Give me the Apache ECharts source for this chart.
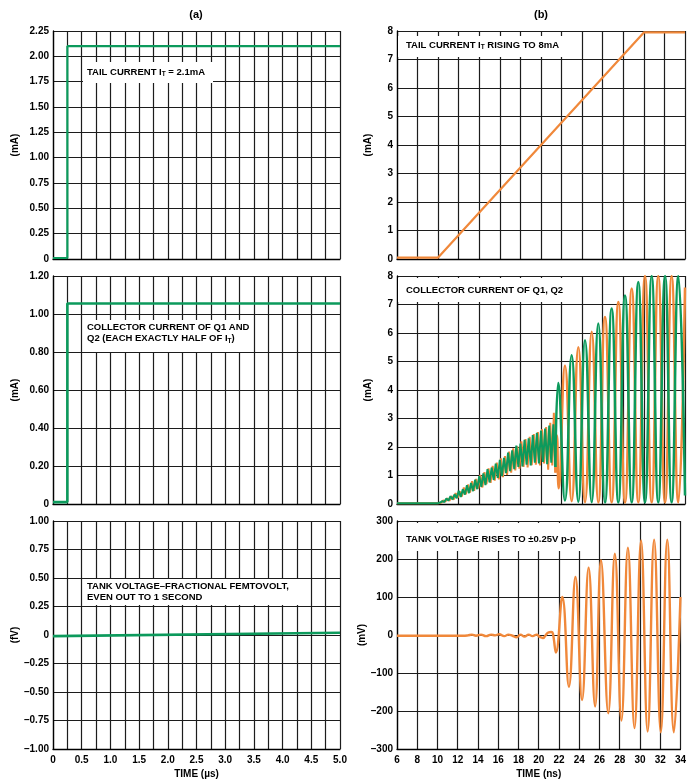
<!DOCTYPE html>
<html><head><meta charset="utf-8">
<script src="https://cdn.jsdelivr.net/npm/echarts@6/dist/echarts.min.js"></script>
<style>html,body{margin:0;padding:0;background:#fff}#c{width:689px;height:782px}</style>
</head><body><div id="c"></div>
<script>
// ---------- panel (a) : time in microseconds ----------
const tailCurrentA = [[0,0.01],[0.25,0.01],[0.25,2.1],[5,2.1]];
const collectorA   = [[0,0.01],[0.25,0.01],[0.25,1.055],[5,1.055]];
const tankA        = [[0,-0.01],[5,0.02]];

// ---------- panel (b) : time in nanoseconds ----------
const tailCurrentB = [[6,0.05],[10,0.05],[30,7.95],[34,7.95]];

const greenNoiseB = [[6,0.03],[10,0.03],[10.2,0.05],[10.4,0.10],[10.6,0.07],[10.8,0.19],[11.0,0.12],[11.2,0.27],[11.4,0.16],[11.6,0.34],[11.8,0.20],
 [12.0,0.46],[12.2,0.25],[12.4,0.52],[12.6,0.33],[12.8,0.66],[13.0,0.38],[13.2,0.74],[13.4,0.45],[13.6,0.85],[13.8,0.52],
 [14.0,0.98],[14.2,0.60],[14.4,1.07],[14.6,0.66],[14.8,1.22],[15.0,0.76],[15.2,1.28],[15.4,0.85],[15.6,1.42],[15.8,0.92],
 [16.0,1.55],[16.2,0.98],[16.4,1.62],[16.6,1.08],[16.8,1.80],[17.0,1.15],[17.2,1.88],[17.4,1.22],[17.6,2.05],[17.8,1.30],
 [18.0,2.12],[18.2,1.32],[18.4,2.25],[18.6,1.38],[18.8,2.30],[19.0,1.35],[19.2,2.42],[19.4,1.45],[19.6,2.50],[19.8,1.42],
 [20.0,2.58],[20.2,1.48],[20.4,2.65],[20.6,1.40],[20.8,2.75],[21.0,1.45],[21.2,2.80],[21.4,1.30]];
const greenOscB = [[21.4,1.30],[21.68,4.25],[22.33,0.12],[22.98,5.22],[23.63,0.08],[24.28,5.75],[24.93,0.06],[25.57,6.33],
 [26.22,0.05],[26.87,6.86],[27.52,0.05],[28.17,7.32],[28.82,0.05],[29.46,7.79],[30.11,0.05],[30.76,8.0],[31.40,0.05],
 [32.06,8.0],[32.70,0.05],[33.35,8.0],[34.0,0.3]];

const orangeNoiseB = [[6,0.03],[10,0.03],[10.1,0.06],[10.3,0.04],[10.5,0.13],[10.7,0.08],[10.9,0.20],[11.1,0.11],[11.3,0.28],[11.5,0.15],[11.7,0.38],[11.9,0.22],
 [12.1,0.44],[12.3,0.26],[12.5,0.58],[12.7,0.34],[12.9,0.68],[13.1,0.40],[13.3,0.80],[13.5,0.46],[13.7,0.88],[13.9,0.54],
 [14.1,1.02],[14.3,0.58],[14.5,1.12],[14.7,0.70],[14.9,1.25],[15.1,0.74],[15.3,1.34],[15.5,0.82],[15.7,1.45],[15.9,0.86],
 [16.1,1.60],[16.3,0.94],[16.5,1.68],[16.7,1.02],[16.9,1.84],[17.1,1.10],[17.3,1.95],[17.5,1.18],[17.7,2.02],[17.9,1.24],
 [18.1,2.20],[18.3,1.30],[18.5,2.28],[18.7,1.28],[18.9,2.36],[19.1,1.36],[19.3,2.45],[19.5,1.38],[19.7,2.52],[19.9,1.35],
 [20.1,2.62],[20.3,1.42],[20.5,2.70],[20.7,1.20],[20.9,2.85],[21.1,1.35],[21.25,3.20],[21.4,1.10]];
const orangeOscB = [[21.4,1.10],[21.55,2.4],[21.72,0.55],[22.33,4.85],[22.98,0.10],[23.63,5.50],[24.28,0.06],[24.93,6.04],
 [25.57,0.05],[26.22,6.56],[26.87,0.05],[27.52,7.09],[28.17,0.05],[28.82,7.56],[29.46,0.05],[30.11,8.0],[30.76,0.05],
 [31.40,8.0],[32.06,0.05],[32.70,8.0],[33.35,0.05],[34.0,7.6]];

const tankB = [[6,-2],[12.5,-2],[13,-1],[13.4,1],[13.8,-2],[14.3,1],[14.8,-3],[15.3,1],[15.7,-1],[16.1,2],[16.6,-3],[17.0,1],
 [17.4,-2],[17.8,-6],[18.2,1],[18.6,-4],[19.0,1],[19.4,-3],[19.8,1],[20.1,-5],[20.4,-8],[20.9,6],[21.25,8],[21.4,4],
 [21.7,-46],[22.33,100],[22.98,-136],[23.63,153],[24.28,-171],[24.93,177],[25.57,-188],[26.15,197],[26.87,-206],
 [27.52,214],[28.17,-225],[28.81,230],[29.46,-245],[30.11,249],[30.76,-254],[31.40,251],[32.06,-256],[32.70,251],
 [33.35,-256],[34,100]];

// ---------- styling ----------
const GREEN = '#0c9a5c', ORANGE = '#f0883a';
const FONT = '"Liberation Sans", Arial, Helvetica, sans-serif';
const lbl = {color:'#000', fontWeight:'bold', fontSize:10, fontFamily:FONT};
const fixed = d => v => v === 0 ? '0' : (v < 0 ? '\u2013' : '') + Math.abs(v).toFixed(d);
const intLbl = v => v === 0 ? '0' : (v < 0 ? '\u2013' : '') + Math.abs(v);
const halfLbl = v => { const k = v * 2; return Math.abs(k - Math.round(k)) < 1e-6 ? (v === 0 ? '0' : v.toFixed(1)) : ''; };
const split = {show:true, lineStyle:{color:'#1c1c1c', width:1.2}};
const aline = {show:true, onZero:false, lineStyle:{color:'#000', width:1.3}};

const grids = [
  {left:53, top:31, width:287, height:228},
  {left:53, top:276, width:287, height:228},
  {left:53, top:521, width:287, height:228},
  {left:397, top:31, width:288, height:228},
  {left:397, top:276, width:288, height:228},
  {left:397, top:521, width:288, height:228}
];

function xA(i, left){
  const bottom = (i === 2 || i === 5);
  const o = {type:'value', gridIndex:i, position:'bottom', axisLine:aline, axisTick:{show:false}, splitLine:split,
    axisLabel:{show:bottom, margin:6, ...lbl}};
  if (left){ Object.assign(o, {min:0, max:5, interval:0.25}); o.axisLabel.formatter = halfLbl; }
  else { Object.assign(o, {min:6, max:34, interval:2}); o.axisLabel.formatter = intLbl; }
  if (bottom){ o.name = left ? 'TIME (\u00b5s)' : 'TIME (ns)'; o.nameLocation='middle'; o.nameGap=20;
    o.nameTextStyle = {...lbl}; }
  return o;
}
function yA(i, min, max, interval, fmt, name, gap){
  return {type:'value', gridIndex:i, min, max, interval, axisLine:aline, axisTick:{show:false}, splitLine:split,
    axisLabel:{margin:4, formatter:fmt, ...lbl}, name, nameLocation:'middle', nameGap:gap, nameTextStyle:{...lbl}};
}

const xAxis = [xA(0,true), xA(1,true), xA(2,true), xA(3,false), xA(4,false), xA(5,false)];
const yAxis = [
  yA(0, 0, 2.25, 0.25, fixed(2), '(mA)', 33),
  yA(1, 0, 1.2, 0.2, fixed(2), '(mA)', 33),
  yA(2, -1, 1, 0.25, fixed(2), '(fV)', 33),
  yA(3, 0, 8, 1, intLbl, '(mA)', 24),
  yA(4, 0, 8, 1, intLbl, '(mA)', 24),
  yA(5, -300, 300, 100, intLbl, '(mV)', 24)
];

function line(data, i, color, width, smooth, z){
  return {type:'line', data, xAxisIndex:i, yAxisIndex:i, showSymbol:false, symbol:'none', smooth:smooth||false,
    lineStyle:{color, width}, z:z||2, animation:false, silent:true};
}

const series = [
  line(tailCurrentA, 0, GREEN, 2.2),
  line(collectorA, 1, GREEN, 2.6),
  line(tankA, 2, GREEN, 2.6),
  line(tailCurrentB, 3, ORANGE, 2.2),
  line(orangeNoiseB, 4, ORANGE, 2, false, 2),
  line(orangeOscB, 4, ORANGE, 2.5, 0.5, 2),
  line(greenNoiseB, 4, GREEN, 2, false, 3),
  line(greenOscB, 4, GREEN, 2.5, 0.5, 3),
  line(tankB, 5, ORANGE, 2.4, 0.45)
];

const tfont = 'bold 9.5px ' + FONT;
const rich = {s:{fontSize:6.5, fontWeight:'bold', fontFamily:FONT, padding:[5,0,0,0]}};
function note(x, y, w, h, tx, ty, text){
  return [
    {type:'rect', z:100, zlevel:0, silent:true, shape:{x, y, width:w, height:h}, style:{fill:'#fff'}},
    {type:'text', z:101, zlevel:0, silent:true, style:{x:tx, y:ty, text, font:tfont, fill:'#000', rich, lineHeight:11, verticalAlign:'middle'}}
  ];
}

const graphic = [
  {type:'text', z:100, style:{x:196, y:15, text:'(a)', font:'bold 11px '+FONT, fill:'#000', align:'center', verticalAlign:'middle'}},
  {type:'text', z:100, style:{x:541, y:15, text:'(b)', font:'bold 11px '+FONT, fill:'#000', align:'center', verticalAlign:'middle'}},
  ...note(83, 62, 130, 21, 87, 72, 'TAIL CURRENT I{s|T} = 2.1mA'),
  ...note(83, 320, 168, 32, 87, 333, 'COLLECTOR CURRENT OF Q1 AND\nQ2 (EACH EXACTLY HALF OF I{s|T})'),
  ...note(83, 579, 216, 26, 87, 592, 'TANK VOLTAGE\u2013FRACTIONAL FEMTOVOLT,\nEVEN OUT TO 1 SECOND'),
  ...note(398, 36, 180, 21, 406, 45, 'TAIL CURRENT I{s|T} RISING TO 8mA'),
  ...note(398, 278, 172, 24, 406, 290, 'COLLECTOR CURRENT OF Q1, Q2'),
  ...note(398, 523, 187, 28, 406, 539, 'TANK VOLTAGE RISES TO \u00b10.25V p-p')
];

const chart = echarts.init(document.getElementById('c'), null, {renderer:'canvas'});
chart.setOption({animation:false, backgroundColor:'#fff', grid:grids, xAxis, yAxis, series, graphic});
</script></body></html>
